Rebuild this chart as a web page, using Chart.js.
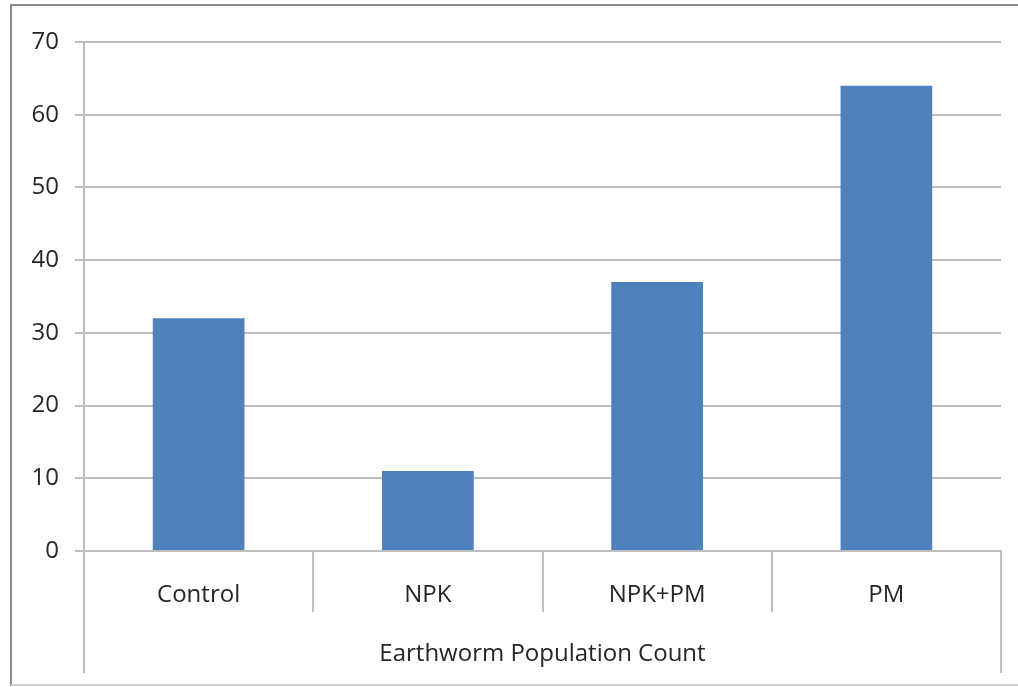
<!DOCTYPE html>
<html>
<head>
<meta charset="utf-8">
<script src="https://cdn.jsdelivr.net/npm/chart.js@4/dist/chart.umd.min.js"></script>
<style>
  html, body { margin: 0; padding: 0; background: #fff; }
  #wrap { width: 1018px; height: 687px; position: relative; }
</style>
</head>
<body>
<div id="wrap"><canvas id="chart"></canvas></div>
<script>
const categories = ['Control', 'NPK', 'NPK+PM', 'PM'];
const counts = [32, 11, 37, 64];
const groupLabel = 'Earthworm Population Count';
const yTicks = [0, 10, 20, 30, 40, 50, 60, 70];

const gridColor = '#bebebe';
const fontFamily = '"Open Sans", "Noto Sans", sans-serif';

// Excel-style frame, category separators and group label under the axis
const framePlugin = {
    id: 'frame',
    afterDraw(chart) {
        const ctx = chart.ctx;
        const area = chart.chartArea;
        const x = chart.scales.x;
        const half = (x.getPixelForValue(1) - x.getPixelForValue(0)) / 2;
        const sepBottom = area.bottom + 61;
        const groupBottom = area.bottom + 122;

        ctx.save();
        ctx.strokeStyle = gridColor;
        ctx.lineWidth = 2;
        ctx.beginPath();
        for (let i = 1; i < categories.length; i++) {
            const px = Math.round(x.getPixelForValue(i) - half);
            ctx.moveTo(px, area.bottom);
            ctx.lineTo(px, sepBottom);
        }
        ctx.moveTo(area.left, area.bottom);
        ctx.lineTo(area.left, groupBottom);
        ctx.moveTo(area.right, area.bottom);
        ctx.lineTo(area.right, groupBottom);
        ctx.stroke();

        ctx.fillStyle = '#262626';
        ctx.font = '24px ' + fontFamily;
        ctx.textAlign = 'center';
        ctx.textBaseline = 'middle';
        ctx.fillText(groupLabel, (area.left + area.right) / 2, area.bottom + 103);

        // outer chart border
        ctx.strokeStyle = '#8a8a8a';
        ctx.lineWidth = 2;
        ctx.beginPath();
        ctx.moveTo(11, 686);
        ctx.lineTo(11, 5);
        ctx.lineTo(1018, 5);
        ctx.stroke();
        ctx.strokeStyle = '#cfcfcf';
        ctx.beginPath();
        ctx.moveTo(11, 685);
        ctx.lineTo(1018, 685);
        ctx.stroke();
        ctx.restore();
    }
};

new Chart(document.getElementById('chart'), {
    type: 'bar',
    data: {
        labels: categories,
        datasets: [{
            data: counts,
            backgroundColor: '#4f81bd',
            borderWidth: 0,
            categoryPercentage: 1,
            barPercentage: 0.4
        }]
    },
    options: {
        responsive: true,
        maintainAspectRatio: false,
        animation: false,
        layout: { padding: { left: 0, right: 17, top: 42, bottom: 0 } },
        plugins: { legend: { display: false }, tooltip: { enabled: false } },
        scales: {
            x: {
                grid: { display: false },
                border: { display: true, color: gridColor, width: 2 },
                ticks: {
                    color: '#262626',
                    font: { family: fontFamily, size: 24 },
                    padding: 22
                },
                afterFit(scale) { scale.height = 136; }
            },
            y: {
                min: 0,
                max: 70,
                afterBuildTicks(scale) { scale.ticks = yTicks.map(v => ({ value: v })); },
                grid: {
                    color: gridColor,
                    lineWidth: 2,
                    tickLength: 9
                },
                border: { display: true, color: gridColor, width: 2 },
                ticks: {
                    color: '#262626',
                    font: { family: fontFamily, size: 24 },
                    padding: 16
                },
                afterFit(scale) { scale.width = 84; }
            }
        }
    },
    plugins: [framePlugin]
});
</script>
</body>
</html>
